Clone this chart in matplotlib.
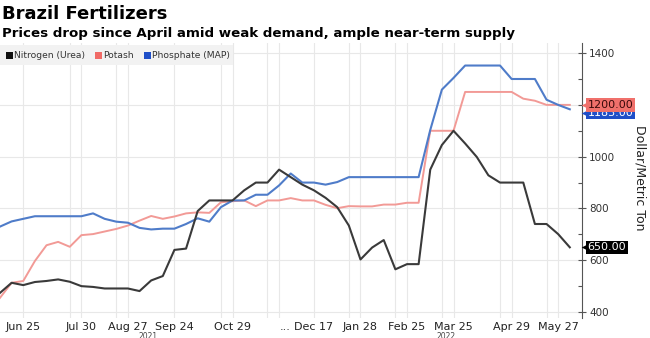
import numpy as np
import matplotlib
matplotlib.use("Agg")
import matplotlib.pyplot as plt
from matplotlib.patches import Rectangle
from matplotlib.transforms import blended_transform_factory, offset_copy

# weekly prices, dollar / metric ton (one point per week, holidays skipped)
nitrogen = [474, 513, 504, 516, 520, 526, 517, 500, 497, 491, 491, 491, 481, 522,
            539, 640, 645, 790, 831, 831, 831, 870, 900, 900, 950, 921, 892, 870,
            841, 805, 734, 603, 649, 678, 565, 585, 585, 950, 1045, 1100, 1051, 999,
            928, 900, 900, 900, 740, 740, 701, 650]
potash = [455, 513, 520, 597, 658, 671, 652, 697, 701, 711, 721, 734, 753, 771,
          760, 769, 781, 785, 783, 824, 828, 831, 809, 831, 831, 840, 831, 831,
          814, 801, 809, 808, 808, 815, 815, 822, 822, 1100, 1100, 1100, 1250, 1250,
          1250, 1250, 1250, 1224, 1216, 1200, 1200, 1200]
phosphate = [730, 750, 760, 770, 770, 770, 770, 770, 781, 760, 749, 745, 725, 719,
             722, 722, 740, 762, 749, 805, 831, 831, 853, 853, 889, 935, 900, 900,
             892, 902, 921, 921, 921, 921, 921, 921, 921, 1103, 1259, 1304, 1352, 1352,
             1352, 1352, 1300, 1300, 1300, 1220, 1200, 1183]

tick_idx = [2, 7, 11, 15, 20, 24.5, 27, 31, 35, 39, 44, 48]
tick_labels = ["Jun 25", "Jul 30", "Aug 27", "Sep 24", "Oct 29", "...", "Dec 17",
               "Jan 28", "Feb 25", "Mar 25", "Apr 29", "May 27"]
grid_idx = [2, 6, 7, 10, 11, 15, 19, 20, 23, 24, 27, 30, 31, 34, 35, 38, 39, 43, 44, 47, 48]
years = ["2021", "2022"]

names = ["Nitrogen (Urea)", "Potash", "Phosphate (MAP)"]
line_colors = ["#3a3a3a", "#f29a96", "#4f7cc9"]
key_colors = ["#111111", "#f06a66", "#1f4fc8"]

W, H = 650, 338
plt.rcParams["font.family"] = ["DejaVu Sans"]
fig = plt.figure(figsize=(W / 100, H / 100), dpi=100)


def fx(x):
    return x / W


def fy(y):
    return 1 - y / H


ax = fig.add_axes([0, fy(318), fx(582), (318 - 43) / H])
x = np.arange(len(nitrogen))
ax.plot(x, nitrogen, color=line_colors[0], lw=1.5, zorder=4)
ax.plot(x, potash, color=line_colors[1], lw=1.4, zorder=3)
ax.plot(x, phosphate, color=line_colors[2], lw=1.5, zorder=3)

ax.set_xlim(0, 50.05)
ax.set_ylim(377, 1439)
for g in grid_idx:
    ax.axvline(g, color="#e8e8e8", lw=0.8, zorder=0)
ax.set_yticks([400, 600, 800, 1000, 1200, 1400])
ax.set_yticks(np.arange(500, 1400, 200), minor=True)
ax.grid(axis="y", which="major", color="#e8e8e8", lw=0.8, zorder=0)
ax.set_xticks(tick_idx)
ax.set_xticklabels(tick_labels)

for s in ["left", "top", "bottom"]:
    ax.spines[s].set_visible(False)
ax.spines["right"].set_color("#555555")
ax.yaxis.tick_right()
ax.tick_params(axis="y", which="major", direction="inout", length=6, width=0.8,
               colors="#555555", labelcolor="#333333", labelsize=7.5, pad=2)
ax.tick_params(axis="y", which="minor", direction="in", length=3, width=0.8,
               colors="#555555")
ax.tick_params(axis="x", length=0, labelsize=8, labelcolor="#222222", pad=3)

fig.text(fx(640), fy(178), "Dollar/Metric Ton", rotation=270, ha="center",
         va="center", fontsize=9, color="#222222")

# last-value tags on the right axis (potash tag sits over the phosphate one)
tr = blended_transform_factory(ax.transAxes, ax.transData)
tags = [(phosphate[-1], -2.5, key_colors[2], "white"),
        (potash[-1], 0, "#f0706b", "#3a0a0a"),
        (nitrogen[-1], 0, "#000000", "white")]
for val, off, bg, fg in tags:
    ax.annotate(f"{val:.2f}", xy=(1.0, val), xycoords=tr, xytext=(4, off),
                textcoords="offset points", ha="left", va="center", fontsize=8,
                color=fg, annotation_clip=False, zorder=7,
                bbox=dict(boxstyle="square,pad=0.15", fc=bg, ec="none"))
    ax.scatter([1.0], [val], transform=offset_copy(tr, fig=fig, x=2, y=off, units="points"),
               marker="<", s=30, color=bg, clip_on=False, zorder=6, linewidths=0)

# title block
fig.text(fx(2), fy(14), "Brazil Fertilizers", fontsize=13, weight="bold",
         va="center", ha="left", color="#000000")
fig.text(fx(2), fy(33), "Prices drop since April amid weak demand, ample near-term supply",
         fontsize=9.6, weight="bold", va="center", ha="left", color="#000000")

# legend strip
fig.patches.append(Rectangle((0, fy(65)), fx(233), 20 / H, transform=fig.transFigure,
                             fc="#f2f2f2", ec="none", zorder=5, figure=fig))
key_x = [6, 95, 144]
for kx, name, col in zip(key_x, names, key_colors):
    fig.patches.append(Rectangle((fx(kx), fy(58.5)), fx(7), 7 / H,
                                 transform=fig.transFigure, fc=col, ec="none",
                                 zorder=7, figure=fig))
    fig.text(fx(kx + 8), fy(55), name, fontsize=6.6, color="#333333",
             va="center", ha="left", zorder=7)

# year row along the bottom edge
for yx, yr in zip([148, 446], years):
    fig.text(fx(yx), fy(332), yr, fontsize=5.5, color="#444444", ha="center", va="top")

fig.savefig("out.png", dpi=100)
